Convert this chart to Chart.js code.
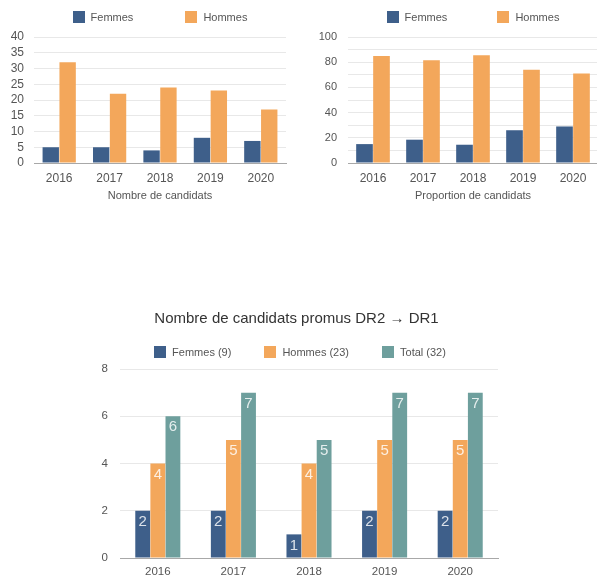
<!DOCTYPE html>
<html>
<head>
<meta charset="utf-8">
<script src="https://cdn.jsdelivr.net/npm/chart.js@4.4.1/dist/chart.umd.min.js"></script>
<style>
  html, body { margin: 0; padding: 0; background: #fff; overflow: hidden; }
  body { width: 597px; height: 580px; position: relative; font-family: "Liberation Sans", Arial, sans-serif; }
  .box { position: absolute; }
  .legend { position: absolute; display: flex; justify-content: center; align-items: center; height: 14px; font-size: 11px; color: #555; }
  .legend .item { display: flex; align-items: center; white-space: nowrap; }
  .legend .sw { display: inline-block; width: 12px; height: 12px; margin-right: 6px; }
</style>
</head>
<body>
<div class="box" style="left:0;top:0;width:300px;height:210px"><canvas id="nombre"></canvas></div>
<div class="box" style="left:300px;top:0;width:300px;height:210px"><canvas id="proportion"></canvas></div>
<div class="box" style="left:95px;top:290px;width:410px;height:290px"><canvas id="promus"></canvas></div>

<div class="legend" id="leg1" style="left:34px;top:10px;width:252px;gap:52px"></div>
<div class="legend" id="leg2" style="left:348px;top:10px;width:250px;gap:50px"></div>
<div class="legend" id="leg3" style="left:95px;top:345px;width:410px;gap:33px"></div>

<script>
// données
const years = ["2016", "2017", "2018", "2019", "2020"];
const femmesNombre = [5, 5, 4, 8, 7];
const hommesNombre = [32, 22, 24, 23, 17];
const femmesProportion = [15, 18.5, 14.5, 26, 29];
const hommesProportion = [85, 81.5, 85.5, 74, 71];
const femmesPromus = [2, 2, 1, 2, 2];
const hommesPromus = [4, 5, 4, 5, 5];
const totalPromus = [6, 7, 5, 7, 7];

const BLEU = "#3e5f8a";
const ORANGE = "#f3a75b";
const VERT = "#6e9f9d";
const FONT = "'Liberation Sans', Arial, sans-serif";

const somme = (arr) => arr.reduce((a, b) => a + b, 0);

// légende en HTML
function legende(id, items) {
  const el = document.getElementById(id);
  items.forEach(([label, color]) => {
    const it = document.createElement("div");
    it.className = "item";
    const sw = document.createElement("span");
    sw.className = "sw";
    sw.style.background = color;
    it.appendChild(sw);
    it.appendChild(document.createTextNode(label));
    el.appendChild(it);
  });
}

// étiquettes de valeur dans les barres
const valeurs = {
  id: "valeurs",
  afterDatasetsDraw(chart) {
    const ctx = chart.ctx;
    ctx.save();
    ctx.font = "15px " + FONT;
    ctx.fillStyle = "rgba(255,255,255,0.82)";
    ctx.textAlign = "center";
    ctx.textBaseline = "middle";
    chart.data.datasets.forEach((ds, i) => {
      chart.getDatasetMeta(i).data.forEach((bar, j) => {
        ctx.fillText(ds.data[j], bar.x, bar.y + 11);
      });
    });
    ctx.restore();
  },
};

function axes(max, step, yWidth, xHeight, xPad, opts) {
  return {
    x: {
      grid: { display: false, drawTicks: false },
      border: { display: true, color: "#a8a8a8", width: 1 },
      ticks: { color: "#555", padding: xPad, font: { family: FONT, size: opts.xSize } },
      title: opts.title
        ? { display: true, text: opts.title, color: "#555", padding: { top: 0, bottom: 7 }, font: { family: FONT, size: 11 } }
        : { display: false },
      afterFit: (s) => { s.height = xHeight; },
    },
    y: {
      min: 0,
      max: max,
      grid: { color: "#e8e8e8", drawTicks: false },
      border: { display: false },
      ticks: {
        stepSize: step,
        autoSkip: false,
        padding: opts.yPad,
        color: "#555",
        font: { family: FONT, size: opts.ySize },
        callback: (v) => (opts.every && v % opts.every !== 0 ? "" : v),
      },
      afterFit: (s) => { s.width = yWidth; },
    },
  };
}

new Chart(document.getElementById("nombre"), {
  type: "bar",
  data: {
    labels: years,
    datasets: [
      { label: "Femmes", data: femmesNombre, backgroundColor: BLEU },
      { label: "Hommes", data: hommesNombre, backgroundColor: ORANGE },
    ],
  },
  options: {
    responsive: true,
    maintainAspectRatio: false,
    animation: false,
    datasets: { bar: { categoryPercentage: 0.67, barPercentage: 0.97 } },
    layout: { padding: { top: 37, right: 14, left: 0, bottom: 0 } },
    plugins: { legend: { display: false }, tooltip: { enabled: false } },
    scales: axes(40, 5, 34, 47, 8, { title: "Nombre de candidats", xSize: 12, ySize: 12, yPad: 10 }),
  },
});

new Chart(document.getElementById("proportion"), {
  type: "bar",
  data: {
    labels: years,
    datasets: [
      { label: "Femmes", data: femmesProportion, backgroundColor: BLEU },
      { label: "Hommes", data: hommesProportion, backgroundColor: ORANGE },
    ],
  },
  options: {
    responsive: true,
    maintainAspectRatio: false,
    animation: false,
    datasets: { bar: { categoryPercentage: 0.68, barPercentage: 0.98 } },
    layout: { padding: { top: 37, right: 2, left: 0, bottom: 0 } },
    plugins: { legend: { display: false }, tooltip: { enabled: false } },
    scales: axes(100, 10, 48, 47, 8, { title: "Proportion de candidats", xSize: 12, ySize: 11, yPad: 11, every: 20 }),
  },
});

new Chart(document.getElementById("promus"), {
  type: "bar",
  data: {
    labels: years,
    datasets: [
      { label: "Femmes", data: femmesPromus, backgroundColor: BLEU },
      { label: "Hommes", data: hommesPromus, backgroundColor: ORANGE },
      { label: "Total", data: totalPromus, backgroundColor: VERT },
    ],
  },
  options: {
    responsive: true,
    maintainAspectRatio: false,
    animation: false,
    datasets: { bar: { categoryPercentage: 0.6, barPercentage: 0.98 } },
    layout: { padding: { top: 0, right: 7, left: 0, bottom: 0 } },
    plugins: {
      legend: { display: false },
      tooltip: { enabled: false },
      title: {
        display: true,
        text: "Nombre de candidats promus DR2 → DR1",
        color: "#333",
        font: { family: "'Liberation Sans', 'DejaVu Sans', sans-serif", size: 15, weight: "normal" },
        padding: { top: 20, bottom: 41 },
      },
    },
    scales: axes(8, 2, 25, 22, 7, { xSize: 11.5, ySize: 11.5, yPad: 12 }),
  },
  plugins: [valeurs],
});

legende("leg1", [["Femmes", BLEU], ["Hommes", ORANGE]]);
legende("leg2", [["Femmes", BLEU], ["Hommes", ORANGE]]);
legende("leg3", [
  ["Femmes (" + somme(femmesPromus) + ")", BLEU],
  ["Hommes (" + somme(hommesPromus) + ")", ORANGE],
  ["Total (" + somme(totalPromus) + ")", VERT],
]);
</script>
</body>
</html>
